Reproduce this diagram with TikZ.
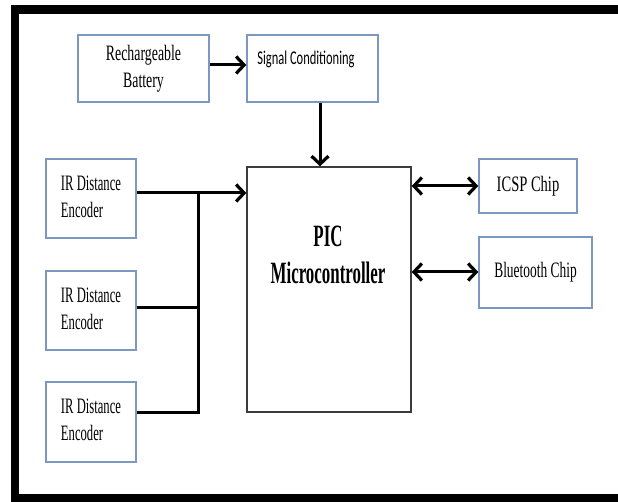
\documentclass[tikz,border=0pt]{standalone}
\usepackage{fontspec}
\setmainfont{Liberation Serif}
\newfontfamily\carlfont{Carlito}
\usetikzlibrary{arrows.meta}
\definecolor{boxblue}{RGB}{125,152,192}
\definecolor{picgray}{RGB}{60,60,60}
\newcommand\sqz[3]{\scalebox{#1}[1]{\begin{tabular}{@{}#2@{}}#3\end{tabular}}}
\begin{document}
\begin{tikzpicture}[x=1pt,y=-1pt,
  bbox/.style={draw=boxblue, line width=1.4pt, fill=white, inner sep=0pt,
    font=\fontsize{22}{27}\selectfont},
  picbox/.style={draw=picgray, line width=1.4pt, inner sep=0pt},
  txt/.style={inner sep=0pt},
  wire/.style={line width=3pt, black},
  tip/.tip={Straight Barb[length=8pt,width=17pt,line width=3.2pt]},
  arr/.style={wire, -tip},
  darr/.style={wire, tip-tip}]
\useasboundingbox (0,0) rectangle (618,502);
\fill[white] (0,0) rectangle (618,502);
% frame
\draw[line width=8.5pt] (15,9.5) rectangle (650,498.5);
% boxes
\node[bbox, minimum width=131pt, minimum height=67pt] (bat) at (143.5,68.5)
  {\sqz{0.63}{c}{Rechargeable\\Battery}};
\node[bbox, minimum width=131pt, minimum height=67pt] (sig) at (312.5,68.5) {};
\node[txt, font=\carlfont\fontsize{19.5}{23}\selectfont] (sigt) at (306,59)
  {\scalebox{0.64}[1]{Signal Conditioning}};
\node[picbox, minimum width=164pt, minimum height=245pt] (pic) at (329,289.5) {};
\node[txt, font=\bfseries\fontsize{31}{37}\selectfont] (pict) at (328,258)
  {\sqz{0.545}{c}{PIC\\Microcontroller}};
\node[bbox, minimum width=98pt, minimum height=54pt] (icsp) at (528,186)
  {\scalebox{0.66}[1]{ICSP Chip}};
\node[bbox, minimum width=113pt, minimum height=71pt] (bt) at (535.5,272.5)
  {\scalebox{0.61}[1]{Bluetooth Chip}};
\node[bbox, minimum width=90pt, minimum height=79pt] (ir1) at (91,198.5)
  {\sqz{0.575}{l}{IR Distance\\Encoder}};
\node[bbox, minimum width=90pt, minimum height=79pt] (ir2) at (91,310.5)
  {\sqz{0.575}{l}{IR Distance\\Encoder}};
\node[bbox, minimum width=90pt, minimum height=80pt] (ir3) at (91,422)
  {\sqz{0.575}{l}{IR Distance\\Encoder}};
% connectors
\draw[arr] ([yshift=3.5pt]bat.east) -- ([yshift=3.5pt]sig.west);
\draw[arr] ([xshift=7.5pt]sig.south) -- ([xshift=7.5pt]sig.south |- pic.north);
\coordinate (a1) at ([yshift=5.5pt]ir1.east);
\coordinate (a2) at ([yshift=2.5pt]ir2.east);
\coordinate (a3) at ([yshift=10pt]ir3.east);
\coordinate (bx) at (198,0);
\draw[arr] (a1) -- (a1 -| pic.west);
\draw[wire] (a3) -| (bx |- a1);
\draw[wire] (a2) -- (a2 -| bx);
\draw[darr] (pic.east |- icsp.west) -- (icsp.west);
\draw[darr] ([yshift=0.5pt]pic.east |- bt.west) -- ([yshift=0.5pt]bt.west);
\end{tikzpicture}
\end{document}
